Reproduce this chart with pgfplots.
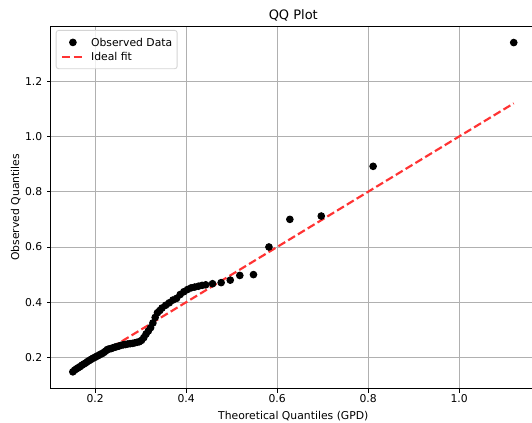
\documentclass[border=0pt]{standalone}
\usepackage{pgfplots}
\pgfplotsset{compat=1.18}
\usepackage{fontspec}
\setmainfont{DejaVu Sans}

\definecolor{gridgray}{HTML}{B0B0B0}
\definecolor{legframe}{HTML}{D4D4D4}
\definecolor{fitred}{HTML}{FF3333}
\newcommand\fsz{\fontsize{10.8bp}{13bp}\selectfont}

\pgfplotsset{
    qqdot legend/.style={legend image code/.code={%
        \draw[##1, fill opacity=1] plot coordinates {(10.8bp,0bp)};}},
    qqline legend/.style={legend image code/.code={%
        \draw[##1] (0bp,0bp) -- (21.6bp,0bp);}},
}

\pgfplotstableread{
x y
0.151 0.148
0.155 0.154
0.159 0.159
0.163 0.163
0.167 0.167
0.171 0.172
0.175 0.176
0.179 0.180
0.183 0.185
0.187 0.189
0.191 0.193
0.195 0.197
0.199 0.200
0.203 0.204
0.207 0.207
0.211 0.211
0.215 0.214
0.219 0.218
0.223 0.223
0.227 0.229
0.231 0.231
0.235 0.232
0.239 0.235
0.243 0.237
0.247 0.239
0.252 0.241
0.257 0.244
0.262 0.246
0.267 0.247
0.272 0.249
0.277 0.250
0.282 0.251
0.287 0.253
0.292 0.255
0.297 0.257
0.302 0.262
0.307 0.272
0.312 0.285
0.317 0.296
0.322 0.308
0.327 0.325
0.332 0.345
0.337 0.362
0.342 0.370
0.347 0.379
0.355 0.389
0.363 0.398
0.371 0.408
0.379 0.414
0.387 0.428
0.395 0.438
0.403 0.446
0.411 0.452
0.419 0.455
0.427 0.458
0.435 0.461
0.443 0.463
0.458 0.467
0.477 0.471
0.497 0.480
0.518 0.497
0.548 0.500
0.582 0.600
0.628 0.700
0.697 0.712
0.811 0.892
1.120 1.340
}\observed

\begin{document}
\begin{tikzpicture}
\begin{axis}[
    name=qq,
    scale only axis,
    width=485bp, height=362.7bp,
    xmin=0.1026, xmax=1.1685,
    ymin=0.087, ymax=1.400,
    xtick={0.2,0.4,0.6,0.8,1.0},
    ytick={0.2,0.4,0.6,0.8,1.0,1.2},
    tick pos=left, tick align=outside,
    major tick length=3.8bp,
    tick style={black, line width=0.86bp},
    axis line style={black, line width=0.86bp},
    grid=major,
    grid style={gridgray, line width=0.86bp},
    ticklabel style={font=\fsz, inner sep=0pt},
    xticklabel style={anchor=base, yshift=-10bp},
    yticklabel style={anchor=east, xshift=-4.6bp},
    title={QQ Plot},
    title style={at={(axis description cs:0.5,1)}, anchor=base, yshift=0.5bp,
        inner sep=0pt, font=\fontsize{13bp}{15bp}\selectfont},
    xlabel={Theoretical Quantiles (GPD)},
    xlabel style={at={(axis description cs:0.5,0)}, anchor=base, yshift=-31.3bp,
        inner sep=0pt, font=\fsz},
    ylabel={Observed Quantiles},
    ylabel style={at={(axis description cs:-0.0652,0.5)}, anchor=base,
        inner sep=0pt, font=\fsz},
    legend cell align=left,
    legend style={at={(axis description cs:0.0101,0.989)}, anchor=north west,
        draw=legframe, line width=0.86bp, rounded corners=2.5bp,
        fill=white, fill opacity=0.8, text opacity=1,
        inner xsep=4.9bp, inner ysep=6bp, row sep=2.3bp, column sep=6.3bp,
        nodes={inner sep=0pt, text height=9.7bp, text depth=2.3bp, font=\fsz}},
    /pgf/number format/assume math mode=true,
    /pgf/number format/fixed,
    /pgf/number format/fixed zerofill,
    /pgf/number format/precision=1,
]
% observed quantiles
\addplot[only marks, mark=*, mark size=3.3bp, draw=black, fill=black,
    mark options={line width=1bp}, qqdot legend]
    table[x=x, y=y] {\observed};
\addlegendentry{Observed Data}
% y = x reference line
\addplot[fitred, line width=2.16bp, dash pattern=on 8bp off 3.45bp, qqline legend]
    coordinates {(0.151,0.151) (1.120,1.120)};
\addlegendentry{Ideal fit}
\end{axis}
\pgfresetboundingbox
\useasboundingbox ([xshift=-50.8bp,yshift=-34.3bp]qq.south west)
    rectangle ([xshift=481.2bp,yshift=26bp]qq.north west);
\end{tikzpicture}
\end{document}
